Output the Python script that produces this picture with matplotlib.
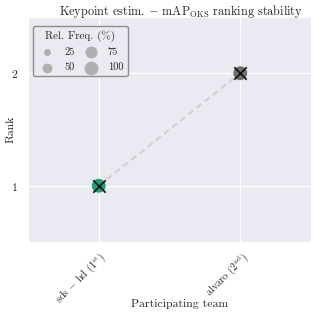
import numpy as np
import matplotlib.pyplot as plt
import seaborn as sns

teams = ['sds $-$ hd (1$^{\\mathrm{st}}$)', 'alvaro (2$^{\\mathrm{nd}}$)']
ranks = [1, 2]
rel_freq = [100, 100]
team_colors = ['#1f9e77', '#6e6e6e']
legend_sizes = [25, 50, 75, 100]

sns.set_style('darkgrid')
plt.rcParams['font.family'] = ['serif']
plt.rcParams['font.serif'] = ['cmr10']
plt.rcParams['mathtext.fontset'] = 'cm'
plt.rcParams['axes.formatter.use_mathtext'] = True

fig = plt.figure(figsize=(3.18, 3.18), dpi=100)
ax = fig.add_axes([28 / 318, 1 - 242 / 318, 283 / 318, 225 / 318])

x = np.arange(len(teams))
ax.plot(x, ranks, linestyle=(0, (3, 2)), color='#d0d0d0', linewidth=1.5, zorder=2)
ax.scatter(x, ranks, s=rel_freq, c=team_colors, zorder=3, linewidths=0)
ax.scatter(x, ranks, s=80, marker='x', c='#111111', linewidths=1.2, zorder=4)

ax.set_xlim(-0.5, 1.5)
ax.set_ylim(0.5, 2.5)
ax.set_xticks(x)
ax.set_xticklabels(teams, rotation=45, ha='right', rotation_mode='anchor', fontsize=7.5)
ax.tick_params(axis='x', pad=2)
ax.set_yticks(ranks)
ax.tick_params(axis='y', labelsize=8.5)
ax.set_xlabel('Participating team', fontsize=8.5)
ax.xaxis.set_label_coords(0.537, -0.255)
ax.set_ylabel('Rank', fontsize=8.5)
ax.yaxis.set_label_coords(-0.045, 0.5)
ax.set_title('Keypoint estim. $-$ mAP$_{\\mathrm{OKS}}$ ranking stability', fontsize=8.8, pad=1.5, x=0.54)

handles = [ax.scatter([], [], s=v, color='#b0b0b0', linewidths=0) for v in legend_sizes]
leg = ax.legend(handles, [str(v) for v in legend_sizes], title='Rel. Freq. (%)', ncol=2,
                loc='upper left', bbox_to_anchor=(0.01, 0.97), fontsize=7.5, title_fontsize=8,
                frameon=True, columnspacing=0.6, handletextpad=0.6, borderpad=0.4,
                labelspacing=0.55, borderaxespad=0.2)
leg.get_frame().set_edgecolor('#777777')
leg.get_frame().set_linewidth(1.0)
leg.get_frame().set_facecolor('#eaeaf2')

fig.savefig('out.png', dpi=100)
